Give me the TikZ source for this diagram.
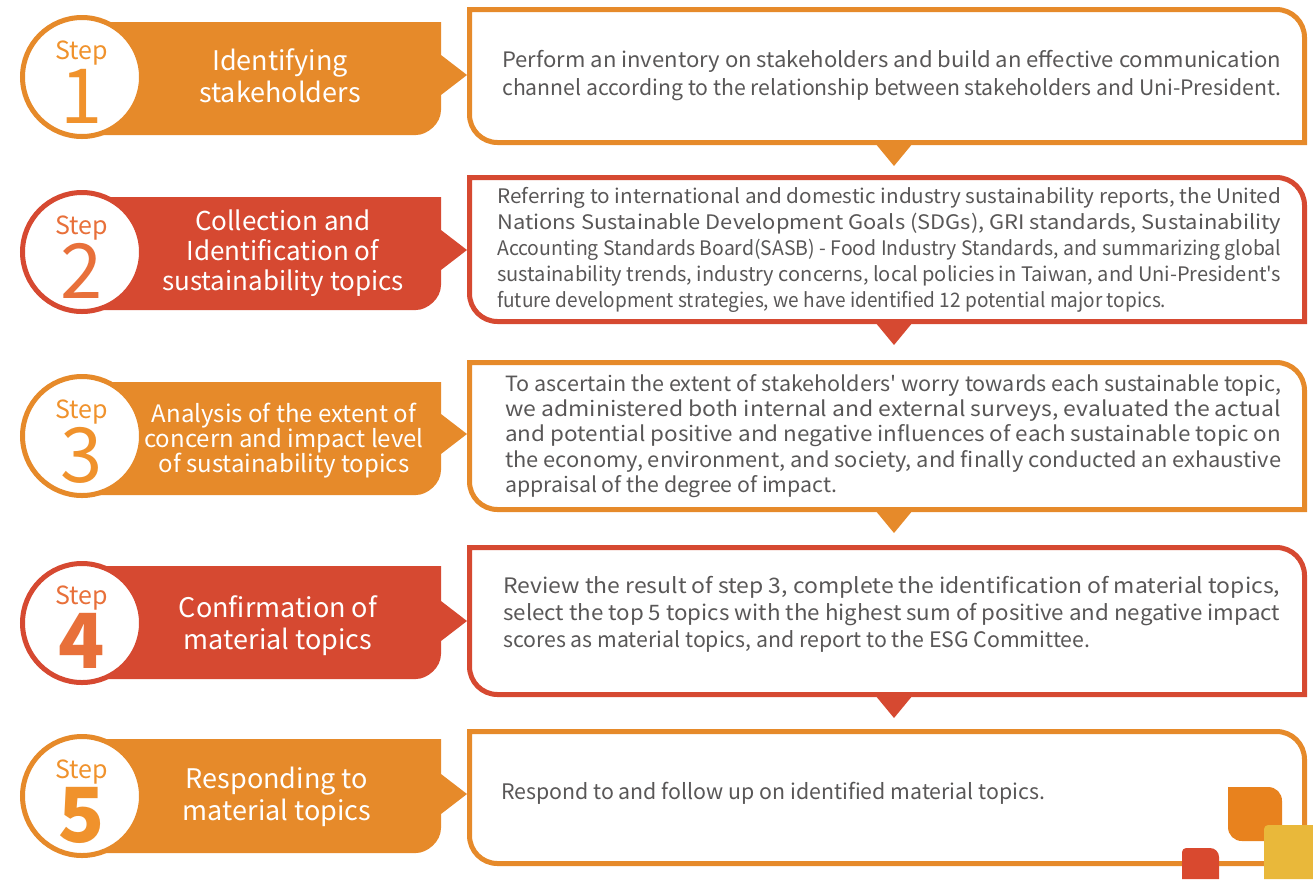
\documentclass[tikz,border=0pt]{standalone}
\usepackage{fontspec}
\setmainfont{Noto Sans CJK TC}[Ligatures=TeXOff]
\usepackage{graphicx}
\definecolor{cor}{HTML}{E68A2A}
\definecolor{cred}{HTML}{D64931}
\definecolor{corT}{HTML}{F0922C}
\definecolor{credT}{HTML}{E8703A}
\definecolor{txt}{HTML}{595757}
\definecolor{cyel}{HTML}{E9B83A}
\definecolor{cdor}{HTML}{E8821E}
\definecolor{cdred}{HTML}{D9492F}
% #1 colour, #2 circle cy, #3 label top, #4 label bottom
\newcommand\LabelBox[4]{%
  \fill[#1] (90,#3) -- (441,#3) -- (441,#2-22) -- (467,#2-2) -- (441,#2+18)
    -- (441,#4-25) .. controls (441,#4-11.2) and (427.2,#4) .. (416,#4) -- (90,#4) -- cycle;}
\newcommand\ContentBox[3]{%
  \pgfmathsetmacro\T{#2+2.5}\pgfmathsetmacro\B{#3-2.5}%
  \filldraw[fill=white,draw=#1,line width=5pt]
    (469.5,\T) -- (1276.5,\T) .. controls (1292,\T) and (1304.5,\T+12.5) .. (1304.5,\T+28)
    -- (1304.5,\B) -- (497.5,\B) .. controls (482,\B) and (469.5,\B-12.5) .. (469.5,\B-28) -- cycle;}
\newcommand\DownTri[2]{\fill[#1] (875,#2-2) -- (913,#2-2) -- (894,#2+21) -- cycle;}
\newcommand\CircleFrame[2]{\filldraw[fill=white,draw=#1,line width=5pt] (82,#2) circle[radius=59.5];}
\newcommand\StepNum[2]{\makebox[0pt]{\raisebox{64pt}{\fontsize{25}{25}\selectfont Step}}\makebox[0pt]{\fontsize{76}{76}\selectfont #1#2}}
\newcommand\fitw[2]{\resizebox{#1pt}{\height}{#2}}
\tikzset{
  stepmark/.style={anchor=base,inner sep=0pt},
  labeltext/.style={text=white,align=center,inner sep=0pt},
  bodytext/.style={text=txt,align=left,anchor=west,inner sep=0pt}
}
\begin{document}
\begin{tikzpicture}[x=1pt,y=-1pt]
\useasboundingbox (0,0) rectangle (1313,879);
% Row 1
\ContentBox{cor}{7}{145}
\DownTri{cor}{145}
\LabelBox{cor}{77}{22}{135}
\CircleFrame{cor}{77}
\node[stepmark,text=corT] (s1) at (82,123) {\StepNum{}{1}};
\node[labeltext,font=\fontsize{27}{32}\selectfont] (l1) at (280,76) {Identifying\\stakeholders};
\node[bodytext,font=\fontsize{21.3}{28}\selectfont] (t1) at (502,76) {\fitw{779}{Perform an inventory on stakeholders and build an effective communication}\\\fitw{779}{channel according to the relationship between stakeholders and Uni-President.}};
% Row 2
\ContentBox{cred}{175}{324}
\DownTri{cred}{324}
\LabelBox{cred}{252}{197}{310}
\CircleFrame{cred}{252}
\node[stepmark,text=credT] (s2) at (82,298) {\StepNum{}{2}};
\node[labeltext,font=\fontsize{26}{30}\selectfont] (l2) at (283,253) {Collection and\\Identification of\\sustainability topics};
\node[bodytext,font=\fontsize{20}{26.2}\selectfont] (t2) at (497,250) {\fitw{784}{Referring to international and domestic industry sustainability reports, the United}\\\fitw{784}{Nations Sustainable Development Goals (SDGs), GRI standards, Sustainability}\\\fitw{784}{Accounting Standards Board(SASB) - Food Industry Standards, and summarizing global}\\\fitw{784}{sustainability trends, industry concerns, local policies in Taiwan, and Uni-President's}\\\fitw{669}{future development strategies, we have identified 12 potential major topics.}};
% Row 3
\ContentBox{cor}{360}{512}
\DownTri{cor}{512}
\LabelBox{cor}{436}{382}{495}
\CircleFrame{cor}{436}
\node[stepmark,text=corT] (s3) at (82,482) {\StepNum{}{3}};
\node[labeltext,font=\fontsize{24}{25}\selectfont] (l3) at (284,441) {Analysis of the extent of\\concern and impact level\\of sustainability topics};
\node[bodytext,font=\fontsize{21}{25.2}\selectfont] (t3) at (505,436) {\fitw{776}{To ascertain the extent of stakeholders' worry towards each sustainable topic,}\\\fitw{776}{we administered both internal and external surveys, evaluated the actual}\\\fitw{776}{and potential positive and negative influences of each sustainable topic on}\\\fitw{776}{the economy, environment, and society, and finally conducted an exhaustive}\\\fitw{332}{appraisal of the degree of impact.}};
% Row 4
\ContentBox{cred}{545}{697}
\DownTri{cred}{697}
\LabelBox{cred}{623}{566}{679}
\CircleFrame{cred}{623}
\node[stepmark,text=credT] (s4) at (82,668) {\StepNum{\bfseries}{4}};
\node[labeltext,font=\fontsize{27}{32}\selectfont] (l4) at (278,626) {Confirmation of\\material topics};
\node[bodytext,font=\fontsize{21.3}{27}\selectfont] (t4) at (503,614) {\fitw{777}{Review the result of step 3, complete the identification of material topics,}\\\fitw{777}{select the top 5 topics with the highest sum of positive and negative impact}\\\fitw{587}{scores as material topics, and report to the ESG Committee.}};
% Row 5
\ContentBox{cor}{729}{866}
\LabelBox{cor}{796}{739}{853}
\CircleFrame{cor}{796}
\node[stepmark,text=corT] (s5) at (82,842) {\StepNum{\bfseries}{5}};
\node[labeltext,font=\fontsize{27}{32}\selectfont] (l5) at (277,797) {Responding to\\material topics};
\node[bodytext,font=\fontsize{21.4}{28}\selectfont] (t5) at (501,793) {\fitw{544}{Respond to and follow up on identified material topics.}};
% decorations
\fill[cdor] (1228,787) -- (1268,787) .. controls (1276,787) and (1282,793) .. (1282,801) -- (1282,841) -- (1242,841) .. controls (1234,841) and (1228,835) .. (1228,827) -- cycle;
\fill[cyel] (1264,829) .. controls (1264,827) and (1266,825) .. (1268,825) -- (1313,825) -- (1313,879) -- (1264,879) -- cycle;
\fill[cdred] (1182,852) .. controls (1182,850) and (1184,848) .. (1186,848) -- (1210,848) .. controls (1215,848) and (1219,852) .. (1219,857) -- (1219,879) -- (1182,879) -- cycle;
\end{tikzpicture}
\end{document}
